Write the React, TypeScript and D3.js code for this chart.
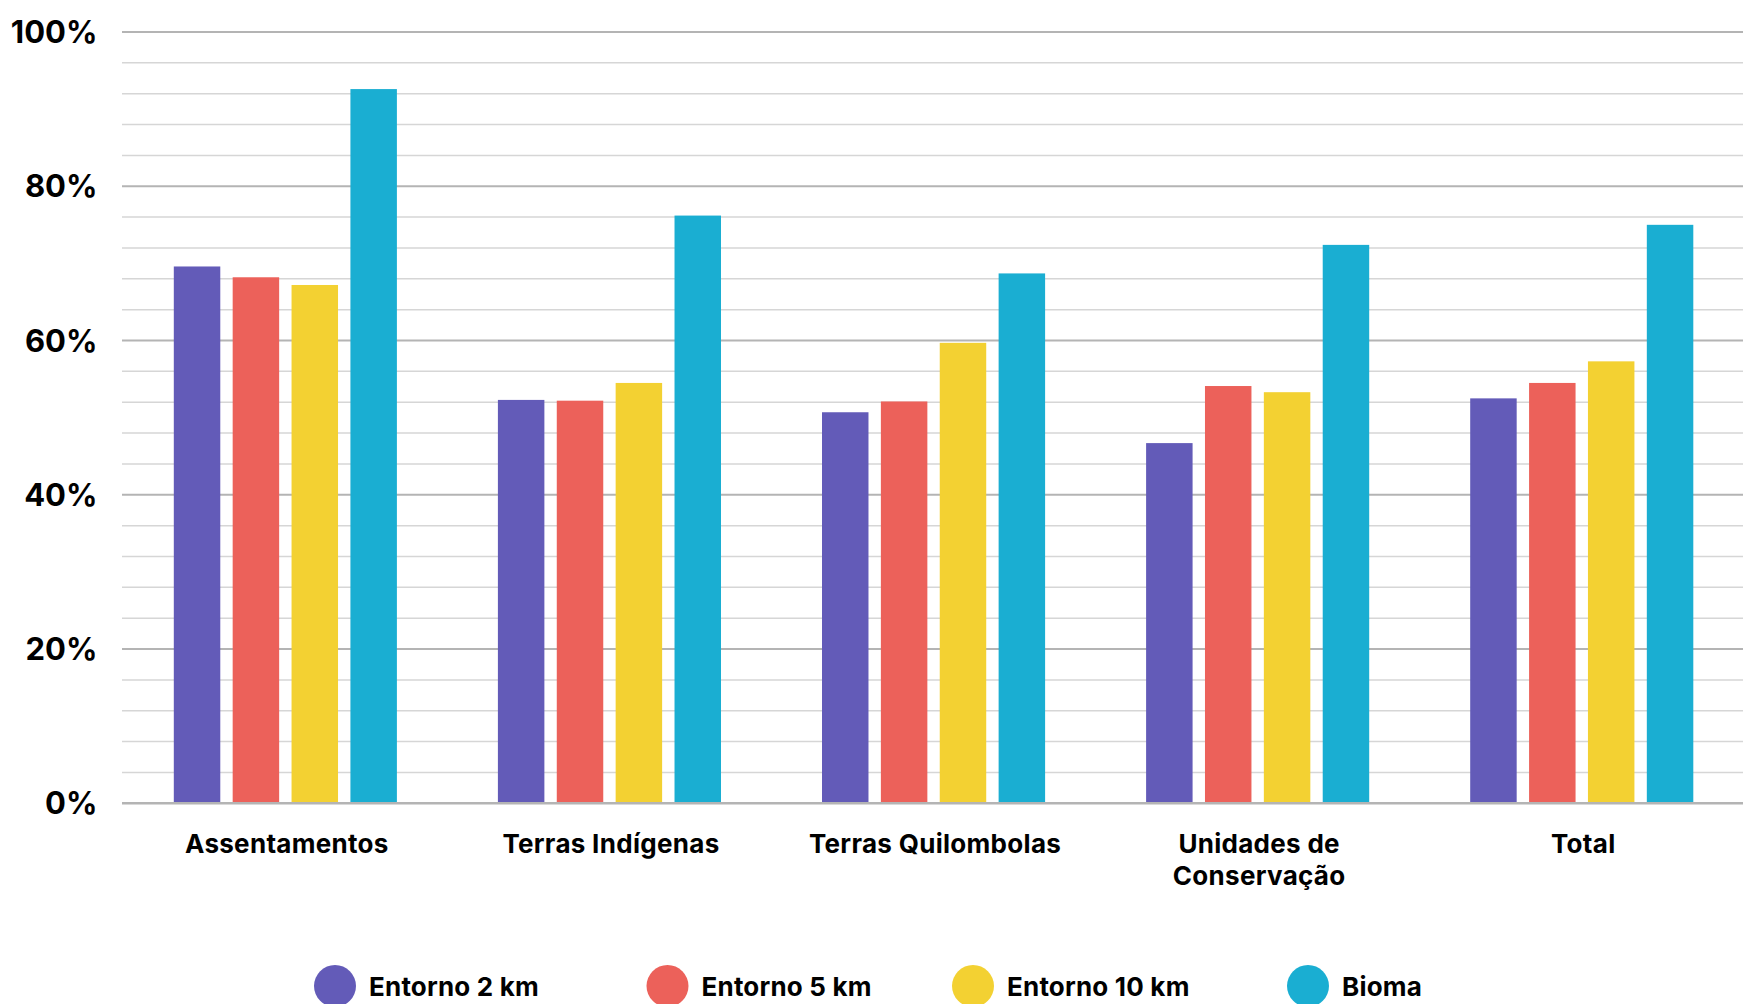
import React from "react";
import * as d3 from "d3";

// Categories and series
const categories = [
  "Assentamentos",
  "Terras Indígenas",
  "Terras Quilombolas",
  "Unidades de Conservação",
  "Total",
];
const categoryLines = [
  ["Assentamentos"],
  ["Terras Indígenas"],
  ["Terras Quilombolas"],
  ["Unidades de", "Conservação"],
  ["Total"],
];
const seriesNames = ["Entorno 2 km", "Entorno 5 km", "Entorno 10 km", "Bioma"];
const seriesColors = ["#635bb8", "#ec615a", "#f3d132", "#1aaed2"];

// Percent values per series, in category order
const entorno2km = [69.6, 52.3, 50.7, 46.7, 52.5];
const entorno5km = [68.2, 52.2, 52.1, 54.1, 54.5];
const entorno10km = [67.2, 54.5, 59.7, 53.3, 57.3];
const bioma = [92.6, 76.2, 68.7, 72.4, 75.0];
const seriesValues = [entorno2km, entorno5km, entorno10km, bioma];

const majorTicks = [0, 20, 40, 60, 80, 100];
const minorTicks = d3.range(0, 101, 4).filter((t) => t % 20 !== 0);

const W = 1743;
const H = 1004;
const FONT = "Inter, 'Noto Sans', sans-serif";

export default function App() {
  const plotLeft = 122;
  const plotRight = 1743;
  const y = d3.scaleLinear().domain([0, 100]).range([803.3, 32]);
  const x0 = d3.scaleBand<string>().domain(categories).range([123.3, 1743.8]).padding(0);
  const groupPad = 50.5;
  const x1 = d3
    .scaleBand<string>()
    .domain(seriesNames)
    .range([groupPad, x0.bandwidth() - groupPad])
    .paddingInner(0.2105)
    .paddingOuter(0);

  const legendX = [335, 667.5, 973, 1308];

  return (
    <svg
      width={W}
      height={H}
      viewBox={`0 0 ${W} ${H}`}
      style={{ position: "absolute", left: 0, top: 0, background: "#fff" }}
    >
      {/* minor gridlines */}
      <g>
        {minorTicks.map((t) => (
          <line
            key={"m" + t}
            x1={plotLeft}
            x2={plotRight}
            y1={y(t)}
            y2={y(t)}
            stroke="#d6d6d6"
            strokeWidth={1.5}
          />
        ))}
      </g>
      {/* major gridlines and labels */}
      <g>
        {majorTicks.map((t) => (
          <g key={"M" + t}>
            <line
              x1={plotLeft}
              x2={plotRight}
              y1={y(t)}
              y2={y(t)}
              stroke="#b4b4b4"
              strokeWidth={t === 0 ? 2.6 : 2}
            />
            <text
              x={97.5}
              y={y(t) + 11}
              textAnchor="end"
              fontFamily={FONT}
              fontWeight={700}
              fontSize={31}
              fill="#000"
            >
              {t}%
            </text>
          </g>
        ))}
      </g>
      {/* bars */}
      <g>
        {categories.map((c, ci) => (
          <g key={c} transform={`translate(${x0(c)},0)`}>
            {seriesNames.map((s, si) => {
              const v = seriesValues[si][ci];
              const top = y(v);
              const bottom = y(0) - 1.3;
              return (
                <rect
                  key={s}
                  x={x1(s)}
                  y={top}
                  width={x1.bandwidth()}
                  height={bottom - top}
                  fill={seriesColors[si]}
                />
              );
            })}
          </g>
        ))}
      </g>
      {/* category labels */}
      <g>
        {categories.map((c, ci) => {
          const cx = (x0(c) as number) + x0.bandwidth() / 2 + 1.5;
          return (
            <text
              key={c}
              x={cx}
              y={853.3}
              textAnchor="middle"
              fontFamily={FONT}
              fontWeight={700}
              fontSize={26}
              letterSpacing={0.3}
              fill="#000"
            >
              {categoryLines[ci].map((line, li) => (
                <tspan key={li} x={cx} dy={li === 0 ? 0 : 32}>
                  {line}
                </tspan>
              ))}
            </text>
          );
        })}
      </g>
      {/* legend */}
      <g>
        {seriesNames.map((s, si) => (
          <g key={s}>
            <circle cx={legendX[si]} cy={986} r={21} fill={seriesColors[si]} />
            <text
              x={legendX[si] + 34}
              y={995.5}
              fontFamily={FONT}
              fontWeight={700}
              fontSize={26}
              letterSpacing={0.2}
              fill="#000"
            >
              {s}
            </text>
          </g>
        ))}
      </g>
    </svg>
  );
}
